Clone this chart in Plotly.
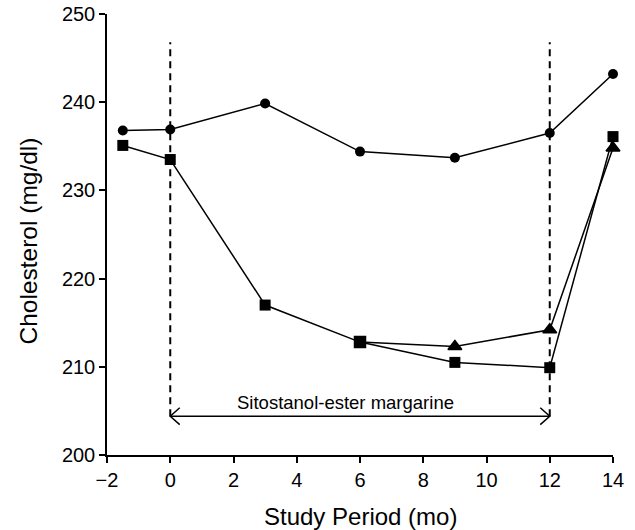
import plotly.graph_objects as go

# ---- data ----
months_all = [-1.5, 0, 3, 6, 9, 12, 14]
control = [236.8, 236.9, 239.85, 234.4, 233.7, 236.5, 243.2]          # circles
stanol_a = [235.1, 233.5, 217.0, 212.8, 210.5, 209.9, 236.1]         # squares
months_b = [6, 9, 12, 14]
stanol_b = [212.8, 212.3, 214.2, 234.8]                               # triangles

x_ticks = [-2, 0, 2, 4, 6, 8, 10, 12, 14]
y_ticks = [200, 210, 220, 230, 240, 250]

period_start = 0
period_end = 12
period_label = "Sitostanol-ester margarine"
arrow_level = 204.4
dash_top = 246.8

FONT = "Liberation Sans, Arial, Helvetica, sans-serif"
line_style = dict(color="black", width=1.5)

fig = go.Figure()

fig.add_trace(go.Scatter(
    x=months_b, y=stanol_b, mode="lines+markers",
    line=line_style,
    marker=dict(symbol=["square"] + ["triangle-up"] * (len(months_b) - 1),
                size=[11] + [12] * (len(months_b) - 1), color="#000000",
                opacity=1, line=dict(width=1.5, color="#000000")),
    cliponaxis=False, showlegend=False))

fig.add_trace(go.Scatter(
    x=months_all, y=stanol_a, mode="lines+markers",
    line=line_style,
    marker=dict(symbol="square", size=11, color="black", line=dict(width=0)),
    cliponaxis=False, showlegend=False))

fig.add_trace(go.Scatter(
    x=months_all, y=control, mode="lines+markers",
    line=line_style,
    marker=dict(symbol="circle", size=10, color="black", line=dict(width=0)),
    cliponaxis=False, showlegend=False))

# chevron arrow heads
dx, dy = 0.3, 0.95
fig.add_trace(go.Scatter(
    x=[period_start + dx, period_start, period_start + dx, None,
       period_end - dx, period_end, period_end - dx],
    y=[arrow_level + dy, arrow_level, arrow_level - dy, None,
       arrow_level + dy, arrow_level, arrow_level - dy],
    mode="lines", line=dict(color="black", width=1.5),
    hoverinfo="skip", showlegend=False, cliponaxis=False))

# dashed period boundaries
for xv in (period_start, period_end):
    fig.add_shape(type="line", x0=xv, x1=xv, y0=arrow_level, y1=dash_top,
                  xref="x", yref="y", layer="below",
                  line=dict(color="black", width=2, dash="7px,5px"))

# arrow shaft
fig.add_shape(type="line", x0=period_start, x1=period_end,
              y0=arrow_level, y1=arrow_level, xref="x", yref="y",
              line=dict(color="black", width=1.5))

fig.add_annotation(x=5.55, y=206.0, text=period_label, showarrow=False,
                   xanchor="center", yanchor="middle",
                   font=dict(family=FONT, size=18.5, color="black"))

# axis titles
fig.add_annotation(x=0.5, y=0, xref="paper", yref="paper",
                   text="Study Period (mo)", showarrow=False,
                   xanchor="center", yanchor="middle", yshift=-61.5,
                   font=dict(family=FONT, size=24, color="black"))
fig.add_annotation(x=0, y=0.5, xref="paper", yref="paper",
                   text="Cholesterol (mg/dl)", showarrow=False, textangle=-90,
                   xanchor="center", yanchor="middle", xshift=-79, yshift=-7,
                   font=dict(family=FONT, size=24.5, color="black"))

axis_common = dict(showline=True, linecolor="black", linewidth=1.5,
                   ticks="outside", ticklen=6, tickwidth=1.5, tickcolor="black",
                   showgrid=False, zeroline=False, automargin=False,
                   ticklabeloverflow="allow",
                   tickfont=dict(family=FONT, size=20, color="black"))

fig.update_layout(
    width=635, height=530,
    margin=dict(l=107, r=22, t=14, b=75, autoexpand=False),
    paper_bgcolor="white", plot_bgcolor="white",
    font=dict(family=FONT, color="black"),
    xaxis=dict(range=[-2, 14], tickvals=x_ticks,
               ticktext=[str(v).replace("-", "\u2212") for v in x_ticks],
               **axis_common),
    yaxis=dict(range=[200, 250], tickvals=y_ticks,
               ticktext=[str(v) for v in y_ticks],
               **axis_common),
)

fig.write_html(
    "out.html",
    config={"displayModeBar": False},
    post_script="document.body.style.margin='0';document.body.style.overflow='hidden';",
)
